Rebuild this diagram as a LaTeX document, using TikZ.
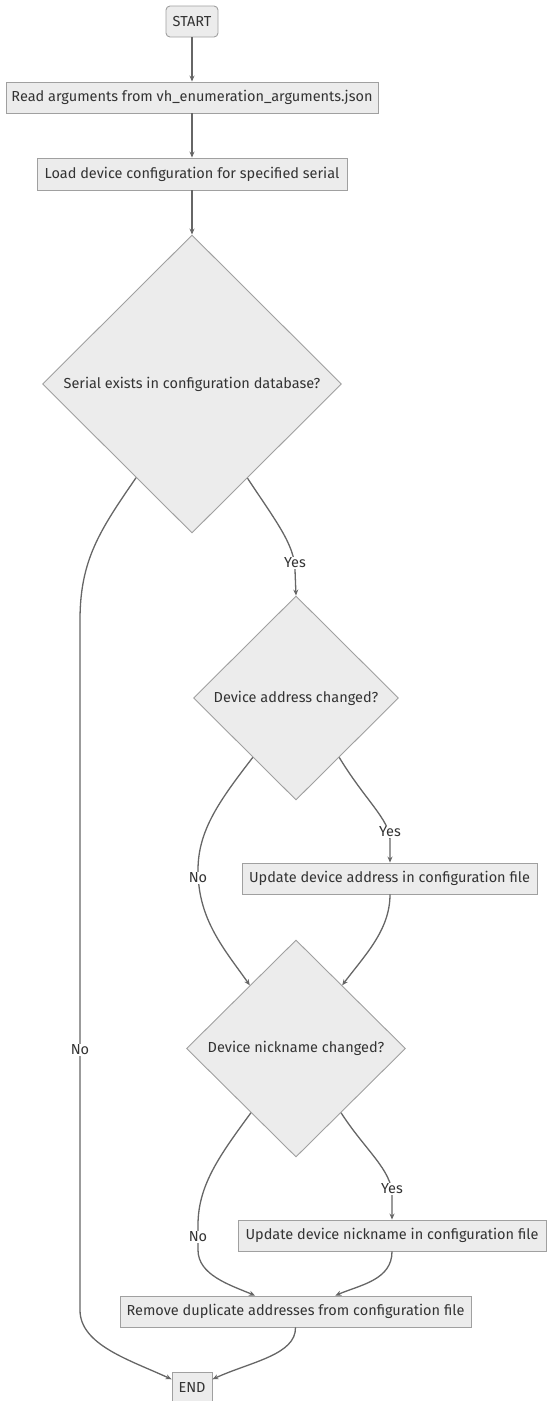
\documentclass[tikz,border=0pt]{standalone}
\usepackage{fontspec}
\setmainfont{Fira Sans}
\usetikzlibrary{shapes.geometric,arrows.meta,calc}
\definecolor{nodefill}{HTML}{ECECEC}
\definecolor{nodeline}{HTML}{A0A0A0}
\definecolor{edgeline}{HTML}{666666}
\definecolor{txt}{HTML}{333333}
\tikzset{
  base/.style={draw=nodeline, fill=nodefill, line width=0.9pt, text=txt, inner sep=0pt,
    font=\fontsize{14.5}{17}\selectfont},
  box/.style={base, rectangle, minimum height=31pt},
  startbox/.style={box, rounded corners=4pt},
  decision/.style={base, diamond},
  flow/.style={draw=edgeline, line width=1.3pt, -{Stealth[length=6pt,width=5pt]}},
  elabel/.style={fill=white, text=txt, inner sep=1pt, font=\fontsize{14.5}{17}\selectfont}
}
\begin{document}
\begin{tikzpicture}[x=1pt,y=-1pt]
\useasboundingbox (0,0) rectangle (547,1401);
\node[startbox, minimum width=52pt] (start) at (192,21.5) {START};
\node[box, minimum width=372pt] (read) at (192,97.5) {Read arguments from vh\_enumeration\_arguments.json};
\node[box, minimum width=310pt, minimum height=32pt] (load) at (192,174) {Load device configuration for specified serial};
\node[decision, minimum width=299pt, minimum height=298pt] (d1) at (192,384) {Serial exists in configuration database?};
\node[decision, minimum width=205pt, minimum height=204pt] (d2) at (296,698) {Device address changed?};
\node[box, minimum width=295pt] (upa) at (389.5,878.5) {Update device address in configuration file};
\node[decision, minimum width=219pt, minimum height=217pt] (d3) at (296,1048.5) {Device nickname changed?};
\node[box, minimum width=308pt] (upn) at (392,1235.5) {Update device nickname in configuration file};
\node[box, minimum width=351pt] (rem) at (295.5,1311.5) {Remove duplicate addresses from configuration file};
\node[box, minimum width=40pt, minimum height=30pt] (end) at (192,1387) {END};

\draw[flow] (start) -- (read);
\draw[flow] (read) -- (load);
\draw[flow] (load) -- (d1.north);

% d1 -> END (No)
\coordinate (d1l) at ($(d1.west)!0.627!(d1.south)$);
\coordinate (endl) at ($(end.north west)!0.25!(end.south west)$);
\draw[flow] (d1l) .. controls (100,530) and (80,560) .. (80,620) -- (80,1310)
  .. controls (80,1345) and (130,1360) .. (endl);
\node[elabel] (no1) at (80,1050) {No};

% d1 -> d2 (Yes)
\coordinate (d1r) at ($(d1.east)!0.63!(d1.south)$);
\draw[flow] (d1r) .. controls (275,520) and (295,545) .. (295,570) -- (d2.north);
\node[elabel] (yes1) at (295,563) {Yes};

% d2 -> d3 (No)
\coordinate (d2l) at ($(d2.west)!0.58!(d2.south)$);
\coordinate (d3tl) at ($(d3.north)!0.42!(d3.west)$);
\draw[flow] (d2l) .. controls (220,800) and (198,830) .. (198,870)
  .. controls (198,920) and (225,950) .. (d3tl);
\node[elabel] (no2) at (198,878) {No};

% d2 -> upa (Yes)
\coordinate (d2r) at ($(d2.east)!0.58!(d2.south)$);
\draw[flow] (d2r) .. controls (365,800) and (390,820) .. (390,840) -- (upa.north -| 390,0);
\node[elabel] (yes2) at (390,832) {Yes};

% upa -> d3
\coordinate (d3tr) at ($(d3.north)!0.42!(d3.east)$);
\draw[flow] (upa.south -| 390,0) .. controls (390,930) and (365,955) .. (d3tr);

% d3 -> rem (No)
\coordinate (d3l) at ($(d3.west)!0.59!(d3.south)$);
\coordinate (remtl) at ($(rem.north west)!0.385!(rem.north east)$);
\coordinate (remtr) at ($(rem.north west)!0.613!(rem.north east)$);
\draw[flow] (d3l) .. controls (220,1155) and (198,1185) .. (198,1225) -- (198,1250)
  .. controls (198,1275) and (230,1285) .. (remtl);
\node[elabel] (no3) at (198,1237) {No};

% d3 -> upn (Yes)
\coordinate (d3r) at ($(d3.east)!0.59!(d3.south)$);
\draw[flow] (d3r) .. controls (365,1150) and (392,1170) .. (392,1195) -- (upn.north);
\node[elabel] (yes3) at (392,1189) {Yes};

% upn -> rem
\draw[flow] (upn.south) .. controls (392,1280) and (360,1285) .. (remtr);

% rem -> END
\coordinate (endr) at ($(end.north east)!0.25!(end.south east)$);
\draw[flow] (rem.south) .. controls (296,1355) and (250,1362) .. (endr);
\end{tikzpicture}
\end{document}
